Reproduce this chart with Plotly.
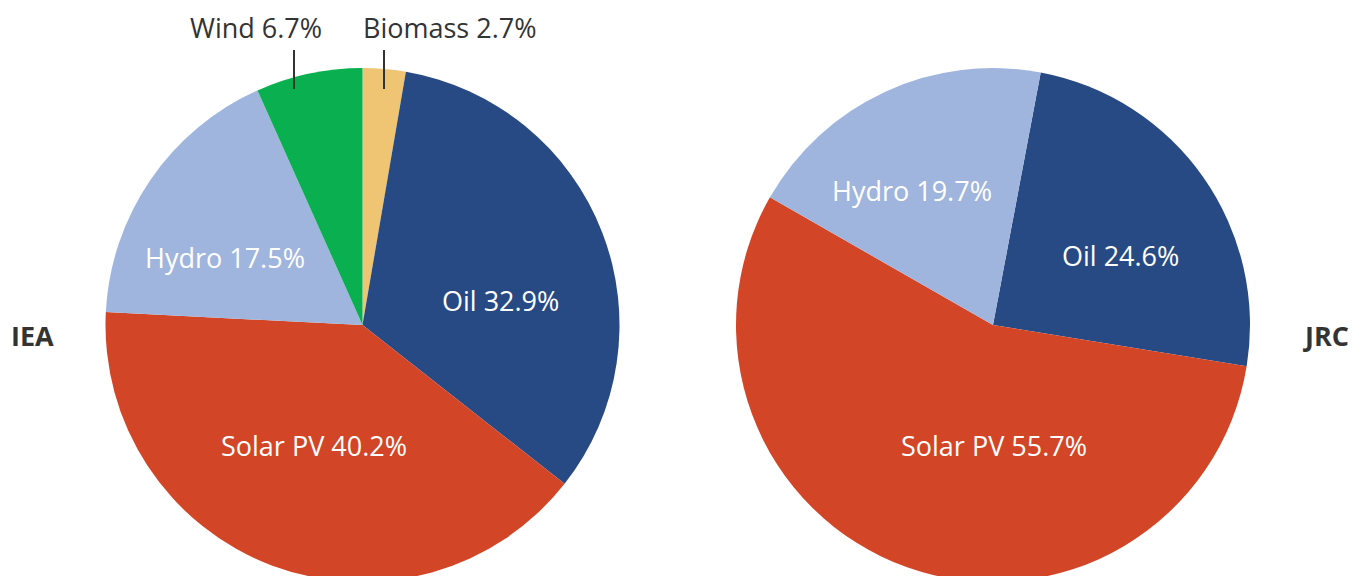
import plotly.graph_objects as go

# ---- data ----
iea_labels = ["Biomass", "Oil", "Solar PV", "Hydro", "Wind"]
iea_values = [2.7, 32.9, 40.2, 17.5, 6.7]
jrc_labels = ["Oil", "Solar PV", "Hydro"]
jrc_values = [24.6, 55.7, 19.7]
colors = {
    "Oil": "#274a84",
    "Solar PV": "#d34527",
    "Hydro": "#9fb5dd",
    "Wind": "#0aaf4f",
    "Biomass": "#efc472",
}

W, H = 1353, 600
FONT = "Open Sans"
FS = 27

def px(x, y):
    return x / W, 1 - y / H

fig = go.Figure()
fig.add_trace(go.Pie(
    labels=iea_labels, values=iea_values, sort=False, direction="clockwise",
    rotation=0, marker=dict(colors=[colors[l] for l in iea_labels], line=dict(width=0)),
    textinfo="none", hoverinfo="label+percent", showlegend=False,
    domain=dict(x=[105.5 / W, 619.5 / W], y=[1 - 582 / H, 1 - 68 / H]),
))
fig.add_trace(go.Pie(
    labels=jrc_labels, values=jrc_values, sort=False, direction="clockwise",
    rotation=10.7, marker=dict(colors=[colors[l] for l in jrc_labels], line=dict(width=0)),
    textinfo="none", hoverinfo="label+percent", showlegend=False,
    domain=dict(x=[736 / W, 1250 / W], y=[1 - 582 / H, 1 - 68 / H]),
))

annotations = []
# inside labels (white)
inside_pos = {
    ("IEA", "Oil"): (500, 300), ("IEA", "Solar PV"): (314, 445), ("IEA", "Hydro"): (225, 257),
    ("JRC", "Oil"): (1120, 255), ("JRC", "Solar PV"): (993.5, 445), ("JRC", "Hydro"): (911.5, 190),
}
for name, labels, values in [("IEA", iea_labels, iea_values), ("JRC", jrc_labels, jrc_values)]:
    for l, v in zip(labels, values):
        key = (name, l)
        if key in inside_pos:
            x, y = px(*inside_pos[key])
            annotations.append(dict(x=x, y=y, xref="paper", yref="paper", showarrow=False,
                                    xanchor="center", yanchor="middle",
                                    text=f"{l} {v:.1f}%", font=dict(family=FONT, size=FS, color="white")))

# outside labels with leader lines
outside_pos = {"Wind": (255.5, 28), "Biomass": (450, 28)}
lines = {"Wind": 294, "Biomass": 384}
shapes = []
for l, v in zip(iea_labels, iea_values):
    if l in outside_pos:
        x, y = px(*outside_pos[l])
        annotations.append(dict(x=x, y=y, xref="paper", yref="paper", showarrow=False,
                                xanchor="center", yanchor="middle",
                                text=f"{l} {v:.1f}%", font=dict(family=FONT, size=FS, color="#333333")))
        lx = lines[l] / W
        shapes.append(dict(type="line", xref="paper", yref="paper", x0=lx, x1=lx,
                           y0=1 - 50 / H, y1=1 - 89 / H, line=dict(color="#333333", width=2)))

for text, (x0, y0) in [("IEA", (32.5, 335)), ("JRC", (1325.5, 335))]:
    x, y = px(x0, y0)
    annotations.append(dict(x=x, y=y, xref="paper", yref="paper", showarrow=False,
                            xanchor="center", yanchor="middle",
                            text=f"<b>{text}</b>", font=dict(family=FONT, size=FS, color="#333333")))

fig.update_layout(
    width=W, height=H, margin=dict(l=0, r=0, t=0, b=0),
    paper_bgcolor="white", plot_bgcolor="white",
    annotations=annotations, shapes=shapes,
)

fig.write_html("out.html", config={"displayModeBar": False},
               post_script="document.body.style.margin='0';document.body.style.overflow='hidden';")
